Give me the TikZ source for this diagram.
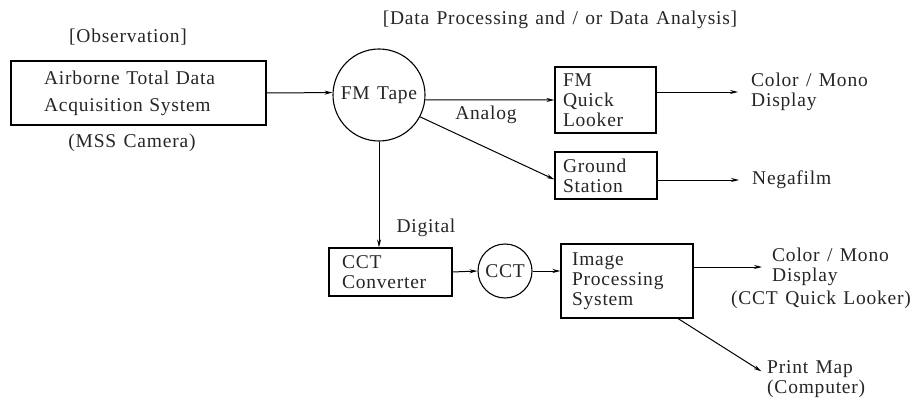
\documentclass[tikz,border=0pt]{standalone}
\usepackage{fontspec}
\setmainfont{Liberation Serif}[LetterSpace=4, WordSpace=1.3]
\usetikzlibrary{arrows.meta}
\begin{document}
\begin{tikzpicture}[x=1pt,y=-1pt,
  every node/.style={font=\fontsize{19.5}{20}\selectfont, text=black!85},
  box/.style={draw, line width=1.1pt, align=left, inner ysep=0pt},
  circ/.style={draw, circle, line width=1.1pt, inner sep=0pt},
  lbl/.style={inner sep=3pt, align=left},
  arr/.style={line width=1pt, -{Stealth[length=8pt,width=4pt]}},
  ln/.style={line width=1pt}]
\useasboundingbox (0,0) rectangle (912,404);
\fill[white] (0,0) rectangle (912,404);

% headings
\node (hobs) at (128,37) {[Observation]};
\node (hdata) at (560,20) {[Data Processing and / or Data Analysis]};

% boxes
\node[box, text width=189pt, inner xsep=33pt, minimum height=64pt,
      font=\fontsize{19.5}{27}\selectfont] (air) at (138.5,93)
  {Airborne Total Data\\Acquisition System};
\node (mss) at (132,143) {(MSS Camera)};

\node[circ, minimum size=92pt] (fm) at (379,95) {FM Tape};

\node[box, text width=85pt, inner xsep=8pt, minimum height=66pt] (ql) at (605.5,100)
  {FM\\Quick\\Looker};
\node[box, text width=86pt, inner xsep=8pt, minimum height=47pt] (gs) at (606,175.5)
  {Ground\\Station};

\node[box, text width=97pt, inner xsep=13pt, minimum height=48pt] (cc) at (390.5,272)
  {CCT\\Converter};
\node[circ, minimum size=54pt] (cct) at (505,271) {CCT};
\node[box, text width=110pt, inner xsep=11pt, minimum height=74pt] (ip) at (627,281)
  {Image\\Processing\\System};

% outputs
\node[lbl, anchor=west] (cd1) at (748,92) {Color / Mono\\Display};
\node[lbl, anchor=west] (neg) at (749,180) {Negafilm};
\node[lbl, anchor=west] (cd2) at (769,267) {Color / Mono\\Display};
\node (cql) at (821,300) {(CCT Quick Looker)};
\node[lbl, anchor=west] (pm) at (764,379) {Print Map\\(Computer)};

% labels
\node (analog) at (486,115) {Analog};
\node[anchor=west] (digital) at (393,228) {Digital};

% connectors
\draw[arr] (air.east) -- (fm.177);
\draw[arr] (fm.-6) -- (ql.west);
\draw[arr] (fm.-28) -- ([yshift=-4pt]gs.west);
\draw[arr, shorten >=10pt] (ql.east |- cd1.west) -- (cd1.west);
\draw[arr, shorten >=10pt] (gs.east |- neg.west) -- (neg.west);
\draw[arr] (fm.south) -- (fm.south |- cc.north);
\draw[arr] (cc.east) -- (cct.west);
\draw[arr] (cct.east) -- (cct.east -| ip.west);
\draw[arr, shorten >=7pt] (ip.east |- cd2.west) -- (cd2.west);
\draw[arr, shorten >=3pt] ([xshift=51pt]ip.south) -- ([yshift=6pt]pm.west);
\end{tikzpicture}
\end{document}
